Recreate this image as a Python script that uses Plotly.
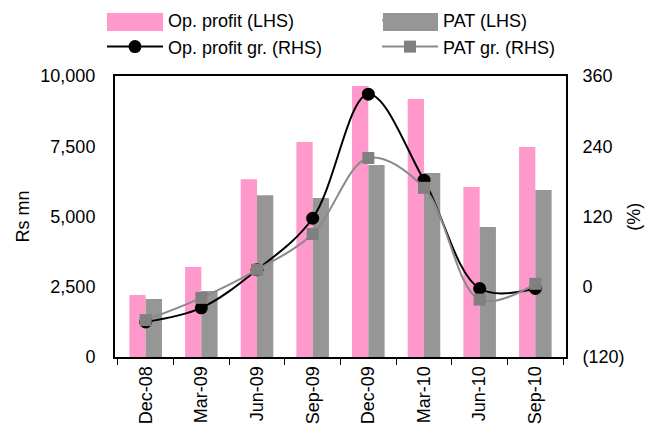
import plotly.graph_objects as go

categories = ["Dec-08", "Mar-09", "Jun-09", "Sep-09", "Dec-09", "Mar-10", "Jun-10", "Sep-10"]
op_profit = [2210, 3200, 6330, 7650, 9640, 9180, 6050, 7470]
pat = [2060, 2350, 5760, 5660, 6830, 6550, 4630, 5940]
op_profit_gr = [-60, -36, 29, 117, 329, 182, -3, -3]
pat_gr = [-57, -19, 29, 90, 220, 169, -22, 5]

left_ticks = [0, 2500, 5000, 7500, 10000]
right_ticks = [-120, 0, 120, 240, 360]
right_labels = ["(120)", "0", "120", "240", "360"]

FONT = "Liberation Sans, Arial, sans-serif"
PINK = "#FF99CC"
GREY_BAR = "#969696"

fig = go.Figure()
fig.add_trace(go.Bar(x=categories, y=op_profit, name="Op. profit (LHS)", showlegend=False,
                     marker=dict(color=PINK, line=dict(width=0))))
fig.add_trace(go.Bar(x=categories, y=pat, name="PAT (LHS)", showlegend=False,
                     marker=dict(color=GREY_BAR, line=dict(width=0))))
fig.add_trace(go.Scatter(x=categories, y=op_profit_gr, name="Op. profit gr. (RHS)", yaxis="y2",
                         mode="lines+markers", line=dict(color="black", width=2, shape="spline"),
                         marker=dict(symbol="circle", size=13, color="black"),
                         legend="legend", legendgroup="b", legendrank=2))
fig.add_trace(go.Scatter(x=categories, y=pat_gr, name="PAT gr. (RHS)", yaxis="y2",
                         mode="lines+markers", line=dict(color="#8a8a8a", width=2, shape="spline"),
                         marker=dict(symbol="square", size=12, color="#808080"),
                         legend="legend2", legendgroup="d", legendrank=2))
# legend-only entries for the bars
fig.add_trace(go.Scatter(x=[None], y=[None], name="Op. profit (LHS)", mode="lines",
                         line=dict(color=PINK, width=2), legend="legend", legendgroup="a",
                         legendrank=1))
fig.add_trace(go.Scatter(x=[None], y=[None], name="PAT (LHS)", mode="lines",
                         line=dict(color=GREY_BAR, width=2), legend="legend2", legendgroup="c",
                         legendrank=1))

leg_common = dict(orientation="v", yref="paper", yanchor="top", xref="container",
                  xanchor="left", font=dict(size=18), itemwidth=56, tracegroupgap=0,
                  bgcolor="rgba(0,0,0,0)", borderwidth=0)

fig.update_layout(
    width=649, height=419,
    margin=dict(l=107, r=91, t=68, b=70, autoexpand=False),
    paper_bgcolor="white", plot_bgcolor="white",
    font=dict(family=FONT, size=18, color="black"),
    barmode="group", bargap=0.415, bargroupgap=0,
    showlegend=True,
    legend=dict(x=0.1448, y=1.2633, **leg_common),
    legend2=dict(x=0.5686, y=1.2633, **leg_common),
    xaxis=dict(type="category", showline=True, linecolor="black", linewidth=2, mirror=True,
               ticks="outside", ticklen=6, tickcolor="black", tickson="boundaries",
               tickangle=-90, showgrid=False, tickfont=dict(size=18)),
    yaxis=dict(range=[0, 10000], tickvals=left_ticks, tickformat=",", showline=True,
               linecolor="black", linewidth=2, showgrid=False, ticks="outside", ticklen=14,
               tickcolor="rgba(0,0,0,0)", zeroline=False),
    yaxis2=dict(range=[-120, 360], tickvals=right_ticks, ticktext=right_labels, overlaying="y",
                side="right", showline=True, linecolor="black", linewidth=2, showgrid=False,
                ticks="outside", ticklen=11, tickcolor="rgba(0,0,0,0)", zeroline=False),
    annotations=[
        dict(text="Rs mn", xref="paper", yref="paper", x=-0.206, y=0.5, xanchor="center",
             yanchor="middle", showarrow=False, textangle=-90, font=dict(size=18)),
        dict(text="(%)", xref="paper", yref="paper", x=1.149, y=0.5, xanchor="center",
             yanchor="middle", showarrow=False, textangle=-90, font=dict(size=18)),
    ],
    shapes=[
        dict(type="rect", xref="paper", yref="paper", x0=-0.0177, x1=0.1064, y0=1.1601,
             y1=1.2242, fillcolor=PINK, line=dict(width=0), layer="above"),
        dict(type="rect", xref="paper", yref="paper", x0=0.5942, x1=0.7162, y0=1.1601,
             y1=1.2242, fillcolor=GREY_BAR, line=dict(width=0), layer="above"),
    ],
)

fig.write_html("out.html")
